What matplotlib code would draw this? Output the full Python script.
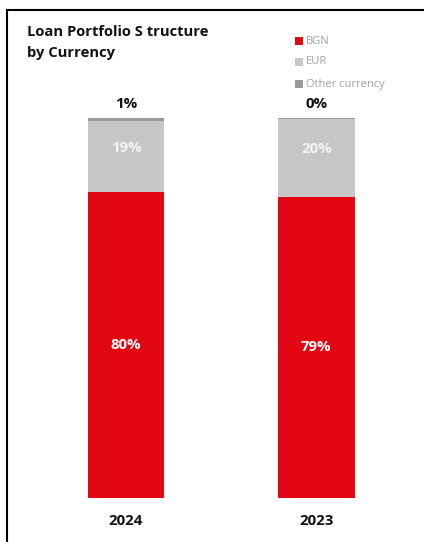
import matplotlib
matplotlib.use("Agg")
import matplotlib.pyplot as plt
from matplotlib.lines import Line2D
from matplotlib.patches import Rectangle

years = ["2024", "2023"]
series_names = ["BGN", "EUR", "Other currency"]
bgn = [80.4, 79.3]
eur = [18.9, 20.4]
other = [0.7, 0.3]
colors = ["#E30613", "#C6C6C6", "#9A9A9A"]

W, H = 424, 542
fig = plt.figure(figsize=(W / 100, H / 100), dpi=100)
plt.rcParams['font.family'] = ['Open Sans', 'DejaVu Sans']

ax = fig.add_axes([11.7 / W, 44 / H, 419 / W, 380 / H])
x = [0, 1]
ax.bar(x, bgn, width=0.4, color=colors[0])
ax.bar(x, eur, width=0.4, bottom=bgn, color=colors[1])
bottom3 = [a + b for a, b in zip(bgn, eur)]
ax.bar(x, other, width=0.4, bottom=bottom3, color=colors[2])
ax.set_xlim(-0.6, 1.6)
ax.set_ylim(0, 100)
ax.axis("off")

fs = 10.8
for i in x:
    ax.text(i, bgn[i] / 2, f"{round(bgn[i])}%", ha="center", va="center",
            color="white", fontsize=fs, fontweight="bold")
    ax.text(i, bgn[i] + eur[i] * 0.62, f"{round(eur[i])}%", ha="center", va="center",
            color="#F4F4F4", fontsize=fs, fontweight="bold")
    ax.text(i, bottom3[i] + other[i] + 3.8, f"{round(other[i])}%", ha="center", va="center",
            color="#111111", fontsize=fs, fontweight="bold")
    ax.text(i, -6, years[i], ha="center", va="center",
            color="#111111", fontsize=fs, fontweight="bold")

# title
fig.text(27 / W, 1 - 32 / H, "Loan Portfolio S tructure", ha="left", va="center",
         fontsize=10.6, fontweight="bold", color="#111111")
fig.text(27 / W, 1 - 53 / H, "by Currency", ha="left", va="center",
         fontsize=10.6, fontweight="bold", color="#111111")

# legend
leg_y = [41, 62, 84]
for name, c, yy in zip(series_names, colors, leg_y):
    fig.add_artist(Rectangle((295 / W, 1 - (yy + 4) / H), 8 / W, 8 / H,
                             transform=fig.transFigure, color=c, lw=0))
    fig.text(306 / W, 1 - yy / H, name, ha="left", va="center",
             fontsize=8, color="#A0A0A0")

# frame lines
fig.add_artist(Line2D([7 / W, 1], [1 - 10 / H, 1 - 10 / H], color="black", lw=1.5,
                      transform=fig.transFigure))
fig.add_artist(Line2D([7 / W, 7 / W], [0, 1 - 10 / H], color="black", lw=1.5,
                      transform=fig.transFigure))

fig.savefig("out.png", dpi=100)
